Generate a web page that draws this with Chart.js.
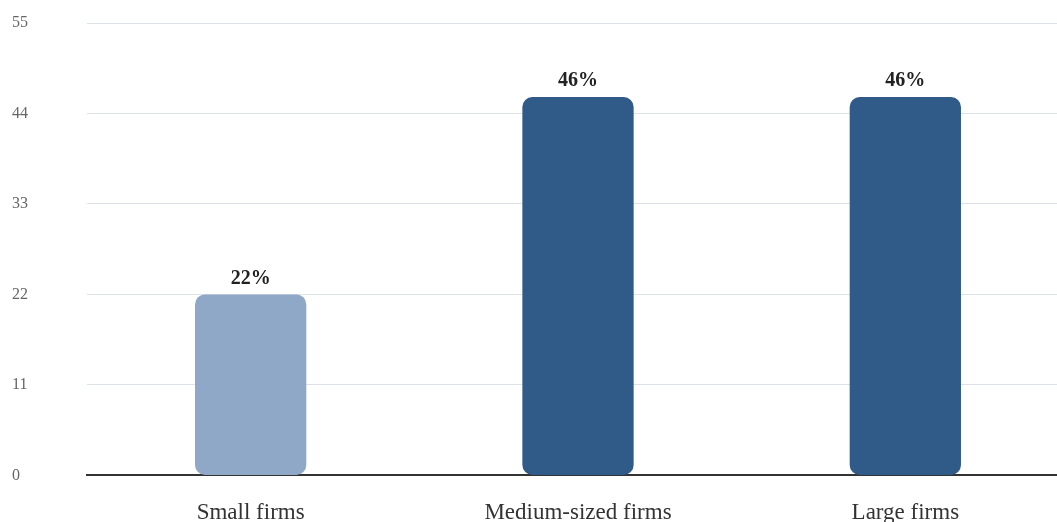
<!DOCTYPE html>
<html>
<head>
<meta charset="utf-8">
<script src="https://cdn.jsdelivr.net/npm/chart.js@4.4.1/dist/chart.umd.min.js"></script>
<style>
  html, body { margin: 0; padding: 0; background: #fff; overflow: hidden; }
  #clip { width: 1057px; height: 522px; overflow: hidden; position: relative; }
  #wrap { width: 1069px; height: 551px; position: relative; }
</style>
</head>
<body>
<div id="clip"><div id="wrap"><canvas id="c"></canvas></div></div>
<script>
const categories = ["Small firms", "Medium-sized firms", "Large firms"];
const shares = [22, 46, 46];
const valueLabels = ["22%", "46%", "46%"];
const yTicks = [0, 11, 22, 33, 44, 55];
const barColors = ["#8fa8c7", "#305b89", "#305b89"];

const labelPlugin = {
  id: 'valueLabels',
  afterDatasetsDraw(chart) {
    const ctx = chart.ctx;
    const meta = chart.getDatasetMeta(0);
    ctx.save();
    ctx.font = 'bold 20px "Liberation Serif", "Times New Roman", serif';
    ctx.fillStyle = '#222';
    ctx.textAlign = 'center';
    ctx.textBaseline = 'bottom';
    meta.data.forEach((bar, i) => {
      ctx.fillText(valueLabels[i], bar.x, bar.y - 6);
    });
    ctx.restore();
  }
};

new Chart(document.getElementById('c'), {
  type: 'bar',
  data: {
    labels: categories,
    datasets: [{
      data: shares,
      backgroundColor: barColors,
      borderRadius: 10,
      borderSkipped: false,
      barPercentage: 0.34,
      categoryPercentage: 1.0
    }]
  },
  options: {
    responsive: true,
    maintainAspectRatio: false,
    animation: false,
    layout: { padding: { top: 23, left: 12, right: 0, bottom: 0 } },
    plugins: { legend: { display: false }, tooltip: { enabled: false } },
    scales: {
      x: {
        grid: { display: false, drawTicks: false },
        border: { display: true, color: '#333', width: 2 },
        ticks: {
          color: '#333',
          padding: 24,
          font: { family: '"Liberation Serif", "Times New Roman", serif', size: 23 }
        }
      },
      y: {
        min: 0,
        max: 55,
        afterBuildTicks(axis) { axis.ticks = yTicks.map(v => ({ value: v })); },
        afterFit(axis) { axis.width = 75; },
        grid: { color: '#dde1ea', lineWidth: 1, drawTicks: false },
        border: { display: false },
        ticks: {
          color: '#666',
          crossAlign: 'far',
          padding: 0,
          font: { family: '"Liberation Serif", "Times New Roman", serif', size: 16 }
        }
      }
    }
  },
  plugins: [labelPlugin]
});
</script>
</body>
</html>
